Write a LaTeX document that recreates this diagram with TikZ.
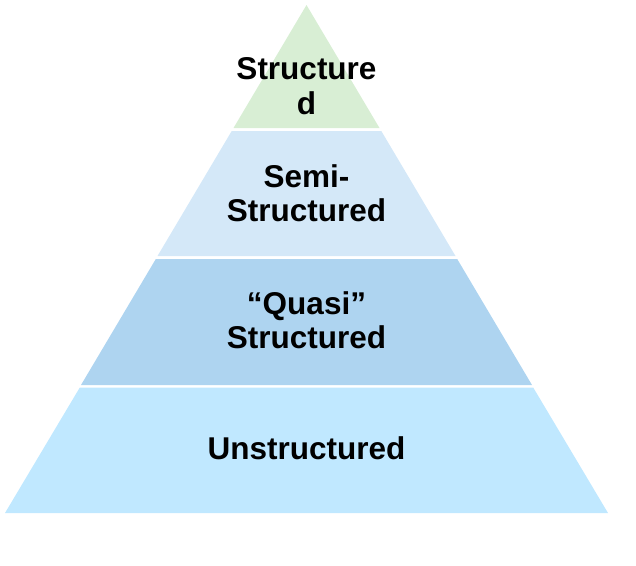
\documentclass[tikz,border=0pt]{standalone}
\usepackage{fontspec}
\setmainfont{Liberation Sans}
\usetikzlibrary{positioning}
\definecolor{topgreen}{RGB}{216,238,212}
\definecolor{semiblue}{RGB}{212,232,248}
\definecolor{quasiblue}{RGB}{174,212,240}
\definecolor{unblue}{RGB}{192,232,255}
\tikzset{
	band/.style={draw=none}, % the layers of the pyramid
	layer label/.style={align=center, font=\bfseries\fontsize{31.5}{34.5}\selectfont, inner sep=0pt}, % text inside each layer
}

\begin{document}
\begin{tikzpicture}[x=1pt, y=-1pt]
	\useasboundingbox (0,0) rectangle (636,565);
	% layers, top to bottom
	\fill[band, topgreen] (306.5,5) -- (379.5,128) -- (233.5,128) -- cycle;
	\fill[band, semiblue] (231.7,131) -- (381.3,131) -- (455.5,256) -- (157.5,256) -- cycle;
	\fill[band, quasiblue] (155.8,259) -- (457.2,259) -- (532,385) -- (81,385) -- cycle;
	\fill[band, unblue] (79.8,387.5) -- (533.2,387.5) -- (608,513) -- (5,513) -- cycle;
	% labels
	\node[layer label] (structured) at (306.5,86) {Structure\\d};
	\node[layer label] (semi) at (306.5,193) {Semi-\\Structured};
	\node[layer label] (quasi) at (306.5,320) {“Quasi”\\Structured};
	\node[layer label] (unstructured) at (306.5,448) {Unstructured};
\end{tikzpicture}
\end{document}
